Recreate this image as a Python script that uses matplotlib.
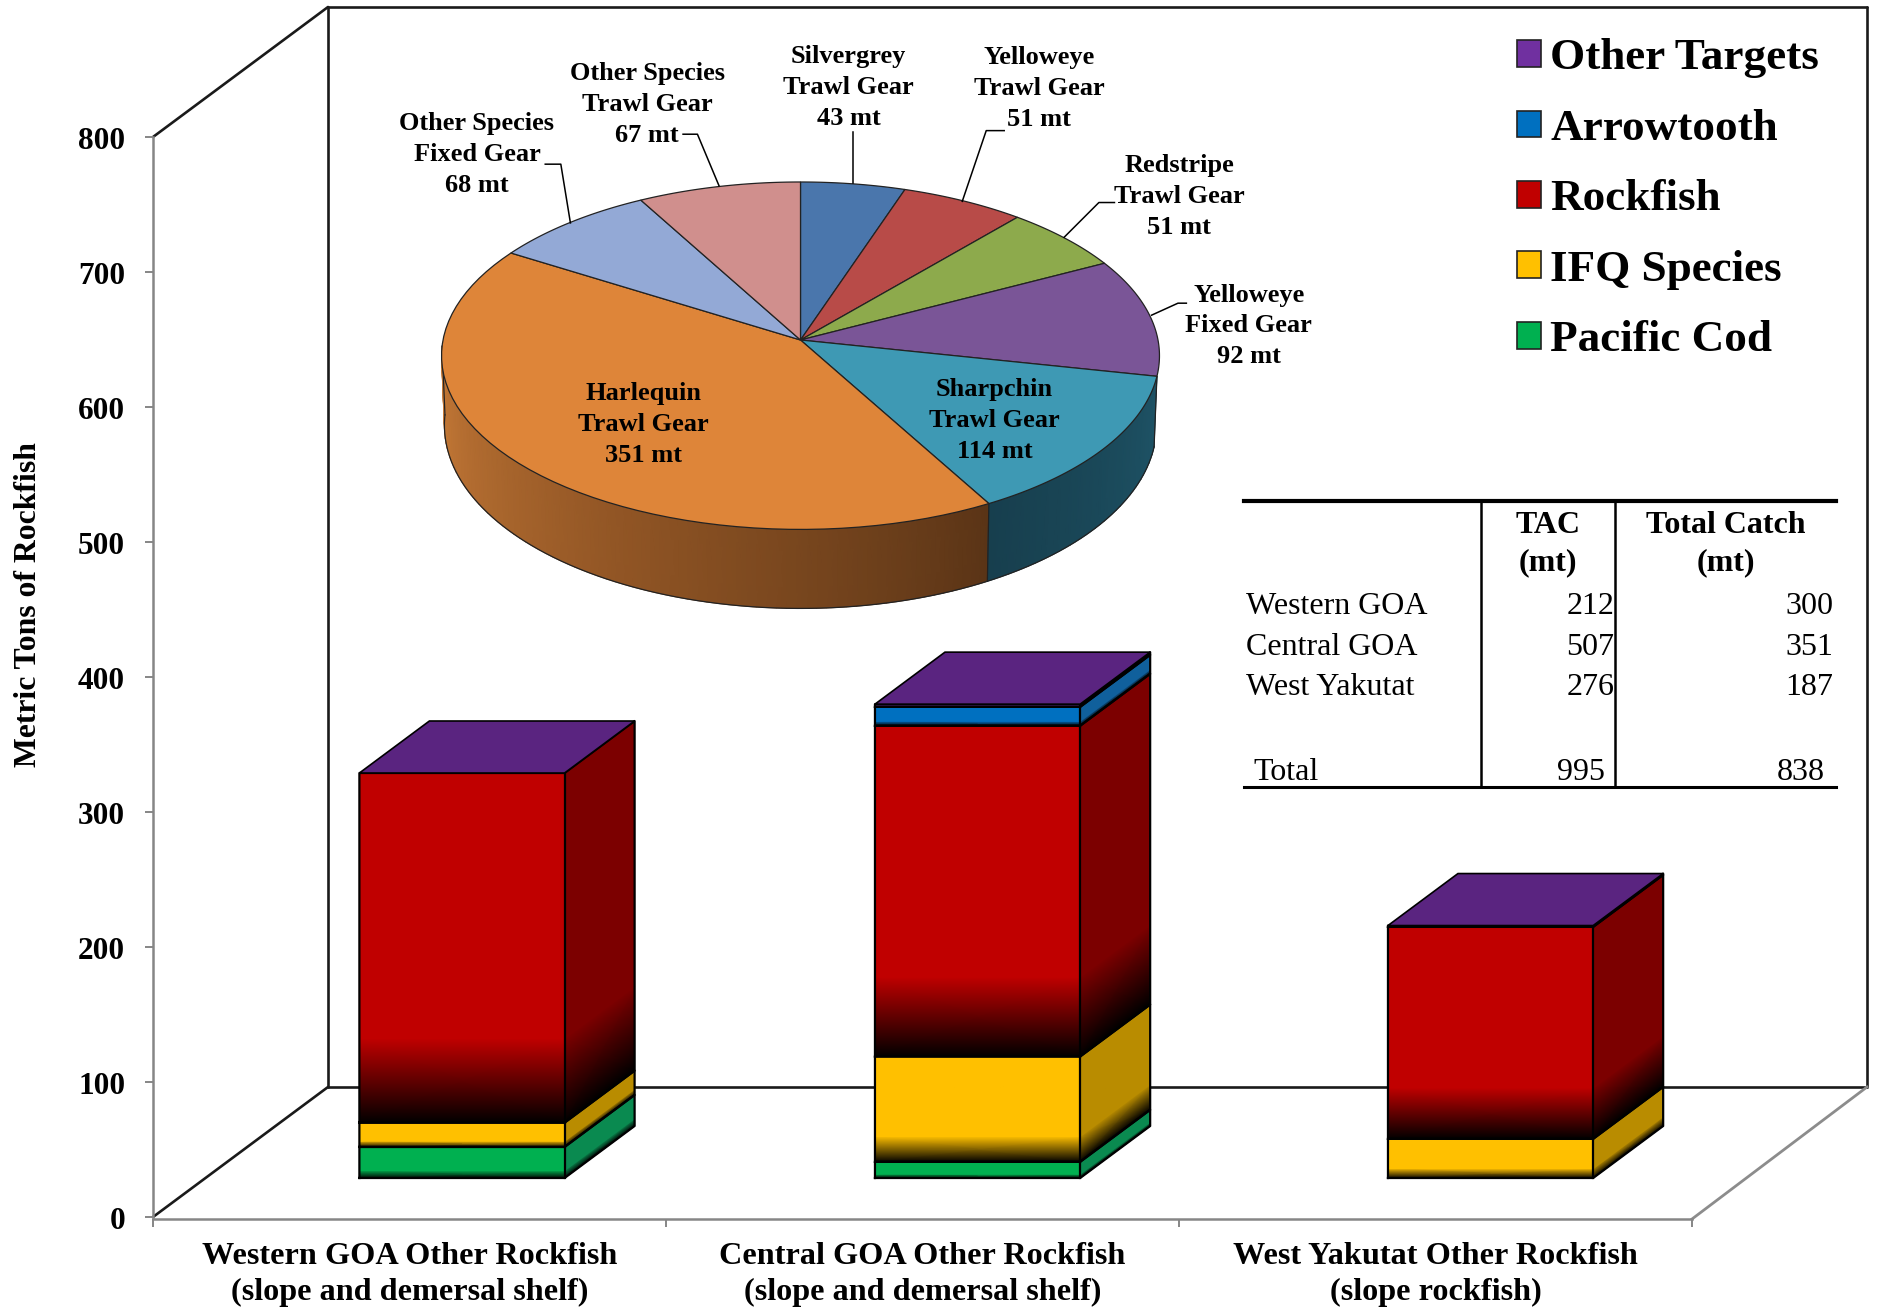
import numpy as np
import matplotlib
matplotlib.use("Agg")
import matplotlib.pyplot as plt
from matplotlib.colors import LinearSegmentedColormap
from matplotlib.patches import Patch
from matplotlib.transforms import ScaledTranslation

plt.rcParams['font.family'] = ['Liberation Serif', 'DejaVu Serif']

# bar data
regions = ["Western GOA Other Rockfish\n(slope and demersal shelf)",
           "Central GOA Other Rockfish\n(slope and demersal shelf)",
           "West Yakutat Other Rockfish\n(slope rockfish)"]
series = ["Pacific Cod", "IFQ Species", "Rockfish", "Arrowtooth", "Other Targets"]
pacific_cod = [23, 12, 0]
ifq_species = [18, 78, 29]
rockfish = [259, 245, 157]
arrowtooth = [0, 14, 0]
other_targets = [0, 2, 1]
yticks = [0, 100, 200, 300, 400, 500, 600, 700, 800]

front_colors = ["#00B050", "#FFC000", "#C00000", "#0070C0", "#7030A0"]
side_colors = ["#0A8A50", "#B98C00", "#7C0000", "#10609C", "#5A2480"]

# pie data
pie_labels = ["Silvergrey\nTrawl Gear\n43 mt", "Yelloweye\nTrawl Gear\n51 mt",
              "Redstripe\nTrawl Gear\n51 mt", "Yelloweye\nFixed Gear\n92 mt",
              "Sharpchin\nTrawl Gear\n114 mt", "Harlequin\nTrawl Gear\n351 mt",
              "Other Species\nFixed Gear\n68 mt", "Other Species\nTrawl Gear\n67 mt"]
pie_values = [43, 51, 51, 92, 114, 351, 68, 67]
pie_colors = ["#4A76AC", "#B84B48", "#8DAA4C", "#7A5597",
              "#3E99B4", "#DE8539", "#93A9D6", "#D08F8D"]
# label centres and leaders, in px of the 1568 wide view
label_xy = [(708, 73), (867, 74), (984, 164), (1042, 272),
            (830, 351), (537, 354), (398, 129), (540, 87)]
leaders = [[(712, 153), (712, 110)],
           [(803, 168), (823, 109), (838, 109)],
           [(888, 198), (917, 169), (930, 169)],
           [(961, 263), (983, 253), (990, 253)],
           None, None,
           [(476, 186), (468, 137), (455, 137)],
           [(600, 155), (582, 112), (570, 112)]]

# table data
table_rows = ["Western GOA", "Central GOA", "West Yakutat"]
tac = [212, 507, 276]
total_catch = [300, 351, 187]
tac_total = 995
catch_total = 838

W, H = 1879, 1309
S = 1879 / 1568
X0, CAT = 153, 513       # px of category 0, px per category
Y0, TON = 1217, 1.35     # px of 0 mt, px per mt
DX = 175 / CAT           # depth shift at the back wall
DY = 130 / TON

fig = plt.figure(figsize=(W / 100, H / 100), dpi=100)
ax = fig.add_axes([0, 0, 1, 1])
ax.set_xlim(-X0 / CAT, (W - X0) / CAT)
ax.set_ylim((Y0 - H) / TON, Y0 / TON)
ax.patch.set_visible(False)


def proj(x, y, d):
    return x + d * DX, y + d * DY


# walls
black = dict(color="#1a1a1a", lw=1.9, solid_capstyle="round", zorder=1)
for a, b in [((0, 800, 0), (0, 800, 1)), ((0, 0, 0), (0, 0, 1)),
             ((0, 0, 1), (0, 800, 1)), ((0, 800, 1), (3, 800, 1)),
             ((3, 800, 1), (3, 0, 1)), ((3, 0, 1), (0, 0, 1))]:
    pa, pb = proj(*a), proj(*b)
    ax.plot([pa[0], pb[0]], [pa[1], pb[1]], **black)
pa, pb = proj(3, -1.5, 0), proj(3, 0, 1)
ax.plot([pa[0], pb[0]], [pa[1], pb[1]], color="#8c8c8c", lw=2, zorder=1)

# axis lines and ticks
GREY = "#868686"
for s in ["top", "right"]:
    ax.spines[s].set_visible(False)
ax.spines["left"].set_position(("data", 0))
ax.spines["left"].set_bounds(0, 800)
ax.spines["bottom"].set_position(("data", -1.5))
ax.spines["bottom"].set_bounds(0, 3)
for s in ["left", "bottom"]:
    ax.spines[s].set_color(GREY)
    ax.spines[s].set_linewidth(1.8)
ax.set_yticks(yticks)
ax.set_yticklabels([str(v) for v in yticks], fontsize=22.5, fontweight="bold")
ax.set_xticks([0, 1, 2, 3])
ax.set_xticklabels([])
ax.set_xticks([0.5, 1.5, 2.5], labels=regions, minor=True, fontsize=23.2,
              fontweight="bold", linespacing=1.3)
ax.tick_params(axis="both", which="major", color=GREY, width=1.4, length=6)
ax.tick_params(axis="x", which="minor", length=0, pad=16.5)
ax.tick_params(axis="y", pad=14)
nudge = ScaledTranslation(0, -1 / 100, fig.dpi_scale_trans)
for t in ax.get_yticklabels():
    t.set_transform(t.get_transform() + nudge)
ax.text(29 / CAT - X0 / CAT, 454, "Metric Tons of Rockfish", rotation=90,
        ha="center", va="center", fontsize=22.8, fontweight="bold")

# stacked 3d bars
D0, D1 = 0.3, 0.7
BAR_W = 0.4
bar_pos = [0.5, 1.505, 2.505]
FADE = [0, 0.24, 1]
stack = np.array([pacific_cod, ifq_species, rockfish, arrowtooth, other_targets])
for i in range(len(regions)):
    left, right = bar_pos[i] - BAR_W / 2, bar_pos[i] + BAR_W / 2
    bottom = 0
    for j, name in enumerate(series):
        val = stack[j, i]
        if val == 0:
            continue
        ys = bottom + np.array(FADE) * val
        top = bottom + val
        # front
        fx, fy = proj(np.array([[left, right]] * 3), np.column_stack([ys, ys]), D0)
        c = np.array([[0, 0], [1, 1], [1, 1]])
        ax.pcolormesh(fx, fy, c, cmap=LinearSegmentedColormap.from_list("f", ["#000000", front_colors[j]]),
                      vmin=0, vmax=1, shading="gouraud", zorder=3)
        # side
        sx0, sy0 = proj(right, ys, D0)
        sx1, sy1 = proj(right, ys, D1)
        ax.pcolormesh(np.column_stack([sx0, sx1]), np.column_stack([sy0, sy1]), c,
                      cmap=LinearSegmentedColormap.from_list("s", ["#000000", side_colors[j]]),
                      vmin=0, vmax=1, shading="gouraud", zorder=3)
        # segment outlines
        a = proj(left, bottom, D0)
        b = proj(right, bottom, D0)
        d = proj(right, bottom, D1)
        e = proj(right, top, D1)
        f = proj(right, top, D0)
        g = proj(left, top, D0)
        ax.plot([a[0], b[0], d[0], e[0], f[0], g[0], a[0]],
                [a[1], b[1], d[1], e[1], f[1], g[1], a[1]],
                color="black", lw=1.6, zorder=4)
        ax.plot([b[0], f[0]], [b[1], f[1]], color="black", lw=1.6, zorder=4)
        bottom = top
    # lid
    corners = [proj(left, bottom, D0), proj(right, bottom, D0),
               proj(right, bottom, D1), proj(left, bottom, D1)]
    ax.fill([p[0] for p in corners], [p[1] for p in corners], facecolor="#5A2480",
            edgecolor="black", lw=1.2, zorder=5)

# overlay in image px for pie, table, legend
ov = fig.add_axes([0, 0, 1, 1])
ov.set_xlim(0, W)
ov.set_ylim(H, 0)
ov.axis("off")

CX, CY = 800.5, 340
A, B, K = 357.5, 172.3, 0.0904


def disc(theta):
    # clockwise from the top of the pie, with some perspective on the back
    u, v = np.sin(theta), np.cos(theta)
    w = 1 + K * v
    return CX + A * u / w, CY - B * v / w


def rim(theta):
    x, y = disc(theta)
    return CX + (x - CX) * 0.992, y + 68.5 - 10.5 * np.cos(theta)


edges = np.cumsum([0] + pie_values) / sum(pie_values) * 2 * np.pi
vis0, vis1 = edges[4], np.deg2rad(268)

# side of the pie: sharpchin and harlequin show
th = np.linspace(edges[5], vis1, 80)
tx, ty = disc(th)
bx, by = rim(th)
shade = np.linspace(0, 1, 80) ** 0.9
ov.pcolormesh(np.vstack([tx, bx]), np.vstack([ty, by]), np.vstack([shade, shade]),
              cmap=LinearSegmentedColormap.from_list("o", ["#5A3416", "#8F5424", "#C97C38"]),
              vmin=0, vmax=1, shading="gouraud", zorder=2)
th = np.linspace(vis0, edges[5], 40)
tx, ty = disc(th)
bx, by = rim(th)
shade = np.linspace(0, 1, 40)
ov.pcolormesh(np.vstack([tx, bx]), np.vstack([ty, by]), np.vstack([shade, shade]),
              cmap=LinearSegmentedColormap.from_list("t", ["#1E5366", "#173F4E"]),
              vmin=0, vmax=1, shading="gouraud", zorder=2)
th = np.linspace(vis0, vis1, 200)
ov.plot(*rim(th), color="#222222", lw=0.9, zorder=3)
for t in [vis0, edges[5], vis1]:
    ov.plot([disc(t)[0], rim(t)[0]], [disc(t)[1], rim(t)[1]], color="#222222", lw=0.9, zorder=3)

# top of the pie
for i, v in enumerate(pie_values):
    th = np.linspace(edges[i], edges[i + 1], 60)
    px, py = disc(th)
    ov.fill(np.r_[CX, px], np.r_[CY, py], facecolor=pie_colors[i],
            edgecolor="#222222", lw=0.9, zorder=4)
    lx, ly = label_xy[i]
    ov.text(lx * S, ly * S, pie_labels[i], ha="center", va="center", fontsize=19,
            fontweight="bold", linespacing=1.44, zorder=6)
    if leaders[i]:
        ov.plot([p[0] * S for p in leaders[i]], [p[1] * S for p in leaders[i]],
                color="black", lw=1.1, zorder=5)

# table
ov.plot(np.array([1038, 1532]) * S, np.array([418, 418]) * S, color="black", lw=3)
ov.plot(np.array([1038, 1532]) * S, np.array([657, 657]) * S, color="black", lw=2.2)
for x in [1236, 1348]:
    ov.plot(np.array([x, x]) * S, np.array([418, 657]) * S, color="black", lw=1.8)
head = dict(ha="center", va="center", fontsize=23, fontweight="bold", linespacing=1.36)
ov.text(1292 * S, 454 * S, "TAC\n(mt)", **head)
ov.text(1440 * S, 454 * S, "Total Catch\n(mt)", **head)
row_y = [506, 540, 574]
for name, t, c, y in zip(table_rows, tac, total_catch, row_y):
    ov.text(1040 * S, y * S, name, ha="left", va="center", fontsize=23)
    ov.text(1347 * S, y * S, str(t), ha="right", va="center", fontsize=23)
    ov.text(1530 * S, y * S, str(c), ha="right", va="center", fontsize=23)
ov.text(1046 * S, 645 * S, "Total", ha="left", va="center", fontsize=23)
ov.text(1339 * S, 645 * S, str(tac_total), ha="right", va="center", fontsize=23)
ov.text(1523 * S, 645 * S, str(catch_total), ha="right", va="center", fontsize=23)

# legend, top of the stack first
handles = [Patch(facecolor=front_colors[j], edgecolor="#222222", lw=1.2, label=series[j])
           for j in range(len(series) - 1, -1, -1)]
ov.legend(handles=handles, loc="upper left", bbox_to_anchor=(1266 * S, 32 * S),
          bbox_transform=ov.transData, frameon=False,
          prop=dict(size=32.5, weight="bold"), handlelength=0.53, handleheight=0.53,
          handletextpad=0.2, labelspacing=0.675, borderpad=0, borderaxespad=0)

fig.savefig("out.png", dpi=100)
